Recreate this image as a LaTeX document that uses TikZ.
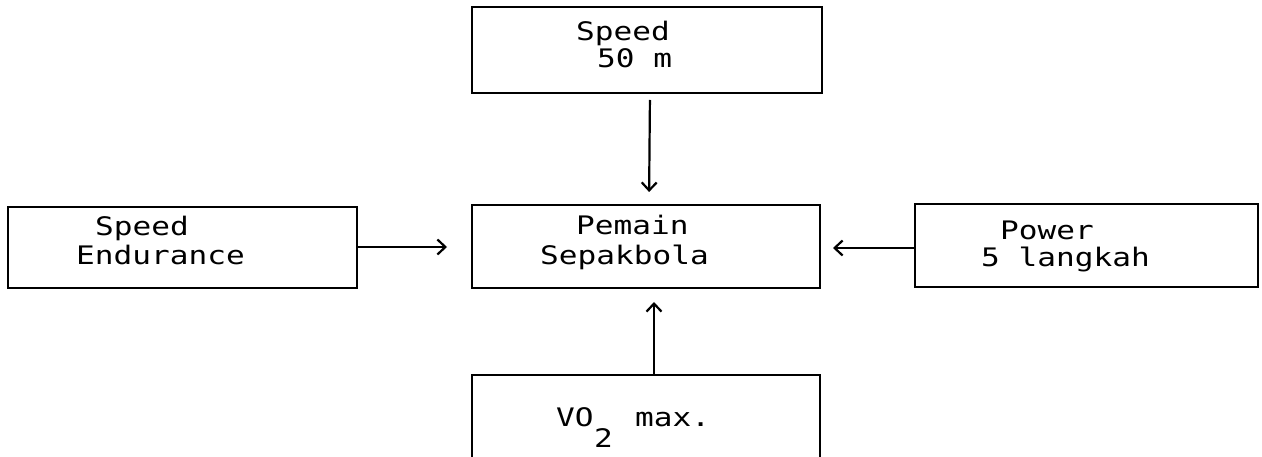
\documentclass[tikz,border=0pt]{standalone}
\usepackage{fontspec}
\newfontfamily\dotfont[FakeStretch=1.22]{DejaVu Sans Mono}
\usetikzlibrary{arrows.meta}
\begin{document}
\begin{tikzpicture}[x=1pt,y=-1pt,
  box/.style={draw, line width=2.6pt, inner sep=0pt, outer sep=0pt},
  txt/.style={anchor=base west, inner sep=0pt, font=\dotfont\fontsize{25.5}{28}\selectfont},
  arr/.style={line width=2.2pt, -{Straight Barb[length=8pt,width=15pt,line width=2.2pt]}}]
\clip (0,0) rectangle (1262,457);
\fill[white] (0,0) rectangle (1262,457);
% boxes
\node[box, minimum width=350pt, minimum height=86pt] (top) at (647,50) {};
\node[box, minimum width=348pt, minimum height=83pt] (center) at (646,246.5) {};
\node[box, minimum width=349pt, minimum height=81pt] (left) at (182.5,247.5) {};
\node[box, minimum width=343pt, minimum height=83pt] (right) at (1086.5,245.5) {};
\node[box, minimum width=348pt, minimum height=100pt] (bottom) at (646,425) {};
% texts
\node[txt] (t1) at (576,41) {Speed};
\node[txt] (t2) at (597,68) {50 m};
\node[txt] (c1) at (576,235) {Pemain};
\node[txt] (c2) at (540,265) {Sepakbola};
\node[txt] (l1) at (95,236) {Speed};
\node[txt] (l2) at (76,265) {Endurance};
\node[txt] (r1) at (1000,240) {Power};
\node[txt] (r2) at (981,267) {5 langkah};
\node[txt] (b1) at (556,426) {VO};
\node[txt] (b2) at (594,447) {2};
\node[txt] (b3) at (635,426) {max.};
% connectors
\draw[arr, shorten <=7pt, shorten >=13pt] ([xshift=3pt]top.south) -- ([xshift=3pt]center.north);
\draw[arr, shorten >=25pt] ([yshift=0.5pt]left.east) -- ([yshift=0.5pt]left.east -| center.west);
\draw[arr, shorten >=13pt] ([yshift=-2.5pt]right.west) -- ([yshift=-2.5pt]right.west -| center.east);
\draw[arr, shorten >=14pt] ([xshift=8pt]bottom.north) -- ([xshift=8pt]center.south);
\end{tikzpicture}
\end{document}
